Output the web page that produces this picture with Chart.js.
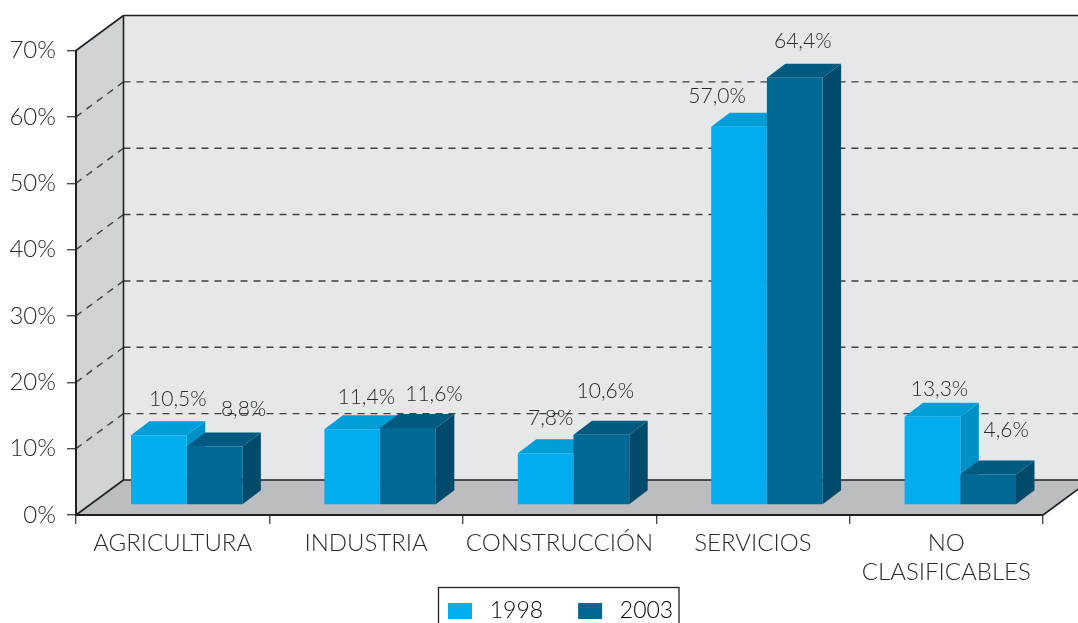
<!DOCTYPE html>
<html>
<head>
<meta charset="utf-8">
<style>html,body{margin:0;padding:0;background:#fff;overflow:hidden}#w{width:1078px;height:623px}</style>
<script src="https://cdn.jsdelivr.net/npm/chart.js@4"></script>
</head>
<body>
<div id="w"><canvas id="c" width="1078" height="623"></canvas></div>
<script>
const categories = ['AGRICULTURA', 'INDUSTRIA', 'CONSTRUCCIÓN', 'SERVICIOS', ['NO', 'CLASIFICABLES']];
const series1998 = [10.5, 11.4, 7.8, 57.0, 13.3];
const series2003 = [8.8, 11.6, 10.6, 64.4, 4.6];
const seriesNames = ['1998', '2003'];
const yTicks = [0, 10, 20, 30, 40, 50, 60, 70];

const FONT = 'Lato, "Open Sans", sans-serif';
const INK = '#2a2a2c', LINE = '#231f20', DASH = '#3f3f41';
const WALL_D = {x: 47.5, y: -35}, BAR_OFF = {x: 14, y: -10}, BAR_D = {x: 18.5, y: -14};
const faces = [
  {front: '#00aeef', top: '#009ed9', side: '#0090c8'},
  {front: '#006894', top: '#005a80', side: '#004a6c'}
];
// label offsets from the centre of each bar's top edge, per series then category
const nudges = [
  [[19, -36], [14, -32], [5, -35], [-22, -31], [7, -28]],
  [[29, -37], [26, -34], [4, -43], [8, -36], [18, -44]]
];

function poly(ctx, pts, fill) {
  ctx.beginPath();
  pts.forEach((p, i) => i ? ctx.lineTo(p[0], p[1]) : ctx.moveTo(p[0], p[1]));
  ctx.closePath();
  ctx.fillStyle = fill;
  ctx.fill();
}
function seg(ctx, a, b) { ctx.beginPath(); ctx.moveTo(a[0], a[1]); ctx.lineTo(b[0], b[1]); ctx.stroke(); }

const box3d = {
  id: 'box3d',
  beforeLayout(chart) {
    // the legend is placed by hand after layout, so it must not take room from the axes
    const l = chart.legend;
    if (!l._fitPatched) {
      const fit = l.fit;
      l.fit = function () { fit.call(this); this.height = 0; };
      l._fitPatched = true;
    }
  },
  beforeDraw(chart) {
    const {ctx, chartArea: a, scales: {y}} = chart;
    const dx = WALL_D.x, dy = WALL_D.y, L = a.left, R = a.right, T = a.top, B = a.bottom;
    ctx.save();
    poly(ctx, [[L + dx, T + dy], [R + dx, T + dy], [R + dx, B + dy], [L + dx, B + dy]], '#e6e7e9');
    poly(ctx, [[L, T], [L + dx, T + dy], [L + dx, B + dy], [L, B]], '#d1d2d4');
    poly(ctx, [[L, B], [L + dx, B + dy], [R + dx, B + dy], [R, B]], '#bcbdc0');
    ctx.strokeStyle = DASH; ctx.lineWidth = 1.4; ctx.setLineDash([7, 6]);
    yTicks.slice(1, -1).forEach(v => {
      const py = y.getPixelForValue(v);
      seg(ctx, [L, py], [L + dx, py + dy]);
      seg(ctx, [L + dx, py + dy], [R + dx, py + dy]);
    });
    ctx.setLineDash([]);
    ctx.strokeStyle = LINE; ctx.lineWidth = 1.6;
    seg(ctx, [L, T], [L + dx, T + dy]);
    seg(ctx, [L + dx, T + dy], [R + dx, T + dy]);
    seg(ctx, [L + dx, T + dy], [L + dx, B + dy]);
    seg(ctx, [L + dx, B + dy], [R + dx, B + dy]);
    seg(ctx, [L, B], [L + dx, B + dy]);
    seg(ctx, [R, B], [R + dx, B + dy]);
    // legend frame, cut by the bottom of the picture as in the reference
    ctx.lineWidth = 1.3;
    ctx.strokeRect(438.5, 587.5, 240.5, 50);
    ctx.restore();
  },
  afterLayout(chart) {
    const l = chart.legend, pad = l.options.labels.padding, itemH = l.options.labels.font.size;
    l.left = 448 - pad; l.right = 740; l.width = l.right - l.left;
    l.top = 611 - pad - itemH / 2; l.bottom = 623; l.height = l.bottom - l.top;
  },
  beforeDatasetsDraw(chart) {
    const {ctx} = chart;
    ctx.save();
    ctx.translate(BAR_OFF.x, BAR_OFF.y);
    const m0 = chart.getDatasetMeta(0).data, m1 = chart.getDatasetMeta(1).data;
    m0.forEach((_, i) => {
      [m0[i], m1[i]].forEach((b, s) => {
        const l = b.x - b.width / 2, r = b.x + b.width / 2, t = b.y, bo = b.base;
        const dx = BAR_D.x, dy = BAR_D.y;
        poly(ctx, [[r, t], [r + dx, t + dy], [r + dx, bo + dy], [r, bo]], faces[s].side);
        poly(ctx, [[l, t], [l + dx, t + dy], [r + dx, t + dy], [r, t]], faces[s].top);
      });
    });
  },
  afterDatasetsDraw(chart) {
    const {ctx} = chart;
    ctx.font = '300 21px ' + FONT;
    ctx.fillStyle = INK;
    ctx.textAlign = 'center';
    ctx.textBaseline = 'middle';
    chart.data.datasets.forEach((ds, s) => {
      chart.getDatasetMeta(s).data.forEach((b, i) => {
        const txt = ds.data[i].toFixed(1).replace('.', ',') + '%';
        ctx.fillText(txt, b.x + nudges[s][i][0], b.y + nudges[s][i][1]);
      });
    });
    ctx.restore();
  }
};

new Chart(document.getElementById('c'), {
  type: 'bar',
  data: {
    labels: categories,
    datasets: [
      {label: seriesNames[0], data: series1998, backgroundColor: faces[0].front, clip: false},
      {label: seriesNames[1], data: series2003, backgroundColor: faces[1].front, clip: false}
    ]
  },
  options: {
    responsive: false,
    animation: false,
    layout: {padding: {top: 50.5, right: 35, left: 0, bottom: 0}},
    datasets: {bar: {categoryPercentage: 0.576, barPercentage: 1}},
    plugins: {
      tooltip: {enabled: false},
      legend: {
        position: 'bottom',
        align: 'start',
        labels: {
          boxWidth: 24, boxHeight: 16, padding: 35, color: INK,
          font: {family: FONT, size: 23, weight: '300'},
          generateLabels: c => c.data.datasets.map((d, i) => ({
            text: ' ' + d.label, fillStyle: d.backgroundColor, strokeStyle: 'rgba(0,0,0,0)', lineWidth: 0, datasetIndex: i
          }))
        }
      }
    },
    scales: {
      x: {
        offset: true,
        afterFit: s => { s.height = 108; },
        border: {color: LINE, width: 2},
        grid: {offset: true, drawOnChartArea: false, drawTicks: true, tickLength: 9, color: '#4a4a4c', lineWidth: 1.4},
        ticks: {color: INK, padding: 5, maxRotation: 0, autoSkip: false, font: {family: FONT, size: 24, weight: '300', lineHeight: 1.2}}
      },
      y: {
        min: 0, max: 70,
        afterFit: s => { s.width = 76; },
        afterBuildTicks: s => { s.ticks = yTicks.map(v => ({value: v})); },
        border: {color: LINE, width: 2},
        grid: {drawOnChartArea: false, drawTicks: true, tickLength: 9, color: '#4a4a4c', lineWidth: 1.4},
        ticks: {color: INK, padding: 11, callback: v => v + '%', font: {family: FONT, size: 24, weight: '300'}}
      }
    }
  },
  plugins: [box3d]
});
</script>
</body>
</html>
